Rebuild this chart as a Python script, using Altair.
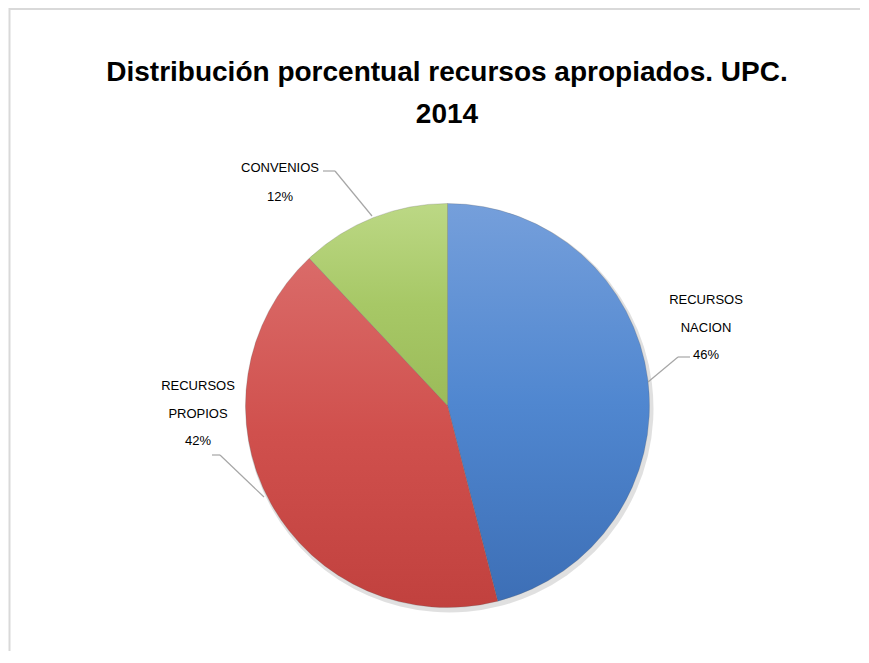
import altair as alt
import pandas as pd

# ---- data ----
categories = ["RECURSOS NACION", "RECURSOS PROPIOS", "CONVENIOS"]
percentages = [46, 42, 12]
slice_order = [1, 2, 3]
title_lines = ["Distribución porcentual recursos apropiados. UPC.", "2014"]

df = pd.DataFrame({"cat": categories, "pct": percentages, "ord": slice_order})

# ---- layout ----
W, H = 852, 643
CX, CY, R = 439.5, 397.5, 202

def grad(c0, c1, c2):
    return alt.Gradient(
        gradient="linear",
        stops=[alt.GradientStop(color=c0, offset=0),
               alt.GradientStop(color=c1, offset=0.5),
               alt.GradientStop(color=c2, offset=1)],
        x1=0, y1=0, x2=0, y2=1,
    )

fills = {
    "RECURSOS NACION": grad("#759FDB", "#5087D0", "#3D6FB6"),
    "RECURSOS PROPIOS": grad("#DA6B69", "#D0504D", "#C1413E"),
    "CONVENIOS": grad("#BCD885", "#A7C866", "#9BBB59"),
}
# (x center, y of first line, line height)
label_pos = {
    "RECURSOS NACION": (698, 292, 27.5),
    "RECURSOS PROPIOS": (190, 378, 27.5),
    "CONVENIOS": (272, 160, 29),
}
leaders = {
    "RECURSOS NACION": [(682, 349), (670, 349), (640, 374)],
    "RECURSOS PROPIOS": [(204, 447), (212, 447), (256, 489)],
    "CONVENIOS": [(315, 163), (327, 163), (364, 208)],
}

theta_scale = alt.Scale(domain=[0, 100], range=[0, 6.283185307179586])

base = alt.Chart(df).transform_window(
    cum="sum(pct)", sort=[alt.SortField("ord")], frame=[None, 0]
).transform_calculate(start="datum.cum - datum.pct")

layers = []

# soft shadow
layers.append(
    base.mark_arc(outerRadius=R + 2, color="#000000", opacity=0.12).encode(
        theta=alt.Theta("start:Q", scale=theta_scale), theta2="cum:Q",
        x=alt.value(CX + 2), y=alt.value(CY + 3),
    )
)

for c in categories:
    sub = base.transform_filter(alt.datum.cat == c)
    layers.append(
        sub.mark_arc(outerRadius=R, color=fills[c], stroke="#5a5a5a",
                     strokeWidth=0.4, strokeOpacity=0.6).encode(
            theta=alt.Theta("start:Q", scale=theta_scale), theta2="cum:Q",
            x=alt.value(CX), y=alt.value(CY),
        )
    )
    lx, ly, lh = label_pos[c]
    layers.append(
        sub.transform_calculate(label="datum.cat + ' ' + datum.pct + '%'")
        .mark_text(lineBreak=" ", lineHeight=lh, fontSize=13,
                   font="Liberation Sans", align="center", baseline="middle",
                   color="#000000")
        .encode(text="label:N", x=alt.value(lx), y=alt.value(ly))
    )
    pts = leaders[c]
    for (x1, y1), (x2, y2) in zip(pts[:-1], pts[1:]):
        layers.append(
            sub.mark_rule(color="#A6A6A6", strokeWidth=1.2).encode(
                x=alt.value(x1), y=alt.value(y1),
                x2=alt.value(x2), y2=alt.value(y2),
            )
        )

title_df = pd.DataFrame({"t": ["\n".join(title_lines)]})
tbase = alt.Chart(title_df)
layers.append(
    tbase.mark_text(lineBreak="\n", lineHeight=42, fontSize=28,
                    fontWeight="bold", font="Liberation Sans",
                    align="center", baseline="middle", color="#000000")
    .encode(text="t:N", x=alt.value(439), y=alt.value(65))
)
# chart frame: an outlined box whose right and bottom edges fall outside the canvas
layers.append(
    tbase.mark_rect(fill="transparent", stroke="#D9D9D9", strokeWidth=2).encode(
        x=alt.value(1.5), y=alt.value(1), x2=alt.value(W + 40), y2=alt.value(H + 40)
    )
)

chart = alt.layer(*layers).properties(
    width=W, height=H, padding=0, autosize="none"
).configure_view(strokeOpacity=0, strokeWidth=0, fill="white")

chart.save("out.html", embed_options={"renderer": "svg", "actions": False})
